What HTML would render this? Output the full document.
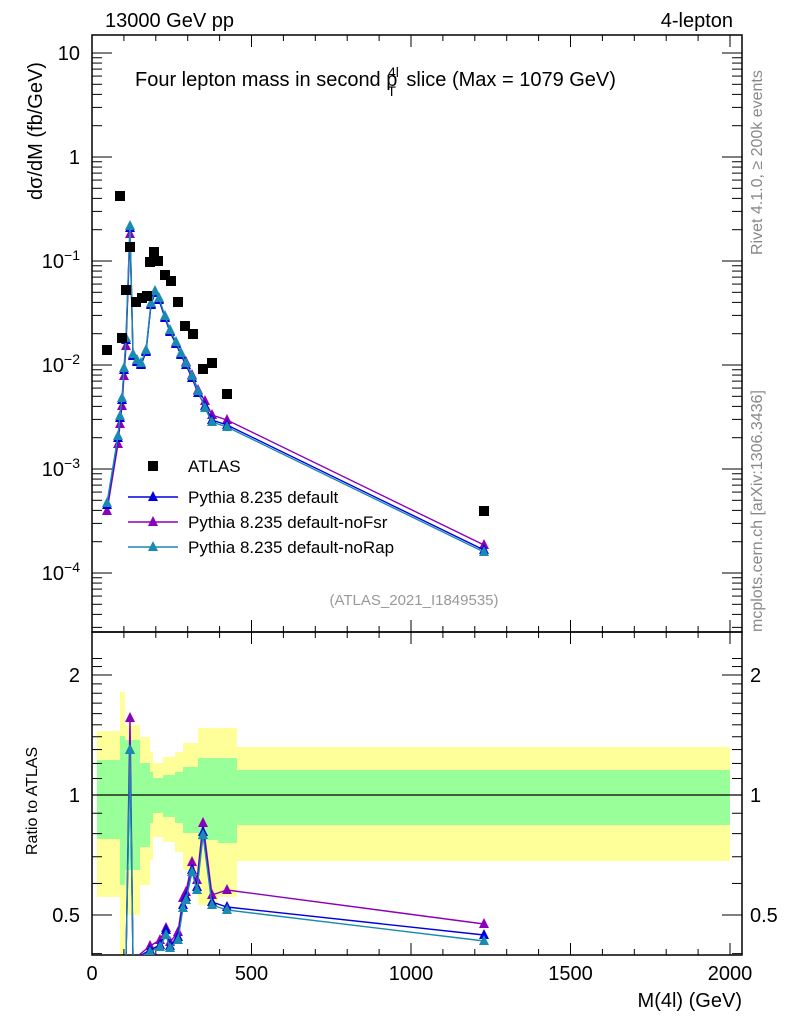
<!DOCTYPE html><html><head><style>body{margin:0;background:#fff}svg{display:block}text{font-family:"Liberation Sans",sans-serif}</style></head><body>
<svg id="s" width="786" height="1024" xmlns="http://www.w3.org/2000/svg"></svg>
<script>
const S=document.getElementById('s');let h='';
const L=92,R=742,T=35,M=632,B=955;
const X=v=>92+v*0.319;
const YM=v=>365-104*Math.log10(v/0.01);
const YR=v=>795-120*Math.log2(v);
const seg=[[97,120,731,897,760,839],[120,125,692,955,736,885],[125,140,725,915,740,870],[140,150,737,885,763,847],[150,153,752,860,772,823],[153,163,763,837,778,813],[163,175,757,842,775,817],[175,183,752,852,772,823],[183,198,743,870,767,833],[198,218,728,905,758,840],[218,237,728,897,758,843],[237,730,747,861,770,825]];
for(const s of seg){h+=`<rect x="${s[0]}" y="${s[2]}" width="${s[1]-s[0]}" height="${s[3]-s[2]}" fill="#ffff99"/>`;}
for(const s of seg){h+=`<rect x="${s[0]}" y="${s[4]}" width="${s[1]-s[0]}" height="${s[5]-s[4]}" fill="#99ff99"/>`;}
h+=`<line x1="${L}" x2="${R}" y1="795" y2="795" stroke="#000" stroke-width="1.3"/>`;
h+=`<rect x="${L}" y="${T}" width="${R-L}" height="${M-T}" fill="none" stroke="#000" stroke-width="1.5"/>`;
h+=`<rect x="${L}" y="${M}" width="${R-L}" height="${B-M}" fill="none" stroke="#000" stroke-width="1.5"/>`;
for(let v=0;v<=2000;v+=100){const x=X(v),mj=v%500==0;const l=mj?12:6;
for(const [y0,d] of [[T,1],[M,-1],[M,1],[B,-1]])h+=`<line x1="${x}" x2="${x}" y1="${y0}" y2="${y0+d*l}" stroke="#000"/>`;}
for(const v of [0,500,1000,1500,2000])h+=`<text x="${X(v)}" y="980" font-size="20" text-anchor="middle">${v}</text>`;
for(let e=-5;e<=1;e++)for(let k=1;k<10;k++){const v=k*Math.pow(10,e);const y=YM(v);if(y<T||y>M)continue;const l=k==1?20:10;
h+=`<line x1="${L}" x2="${L+l}" y1="${y}" y2="${y}" stroke="#000"/><line x1="${R}" x2="${R-l}" y1="${y}" y2="${y}" stroke="#000"/>`;}
h+=`<text x="80" y="${YM(10)+7}" font-size="20" text-anchor="end">10</text><text x="80" y="${YM(1)+7}" font-size="20" text-anchor="end">1</text>`;
for(const e of [-1,-2,-3,-4])h+=`<text x="80" y="${YM(Math.pow(10,e))+7}" font-size="20" text-anchor="end">10<tspan dy="-8" font-size="14">${'−'+(-e)}</tspan></text>`;
for(let v=0.4;v<=2.3;v+=0.1){const y=YR(v);if(y<M||y>B)continue;const mj=Math.abs(v-0.5)<.01||Math.abs(v-1)<.01||Math.abs(v-2)<.01;const l=mj?20:10;
h+=`<line x1="${L}" x2="${L+l}" y1="${y}" y2="${y}" stroke="#000"/><line x1="${R}" x2="${R-l}" y1="${y}" y2="${y}" stroke="#000"/>`;}
for(const [v,t] of [[2,'2'],[1,'1'],[0.5,'0.5']]){h+=`<text x="80" y="${YR(v)+7}" font-size="20" text-anchor="end">${t}</text><text x="750" y="${YR(v)+7}" font-size="20">${t}</text>`;}
const atl=[[107,350],[120,196],[122,338],[126,290],[130,247],[136,302],[142,298],[147,296],[150,262],[154,252],[158,261],[165,275],[171,281],[178,302],[185,326],[193,334],[203,369],[212,363],[227,394],[484,511]];
const base=[[107,505],[118,438],[120,418],[122,400],[124,370],[126,340],[130,228],[133,356],[137,362],[141,365],[146,352],[151,305],[155,293],[159,300],[165,318],[170,332],[176,344],[181,355],[186,365],[192,378],[198,393],[205,404],[212,418],[227,423],[484,548]];
function tri(x,y,c){return `<polygon points="${x},${y-6} ${x-5},${y+4} ${x+5},${y+4}" fill="${c}"/>`;}
function ser(pts,c){h+=`<polyline points="${pts.map(p=>p.join(',')).join(' ')}" fill="none" stroke="${c}" stroke-width="1.4"/>`;for(const p of pts)h+=tri(p[0],p[1],c);}
ser(base.map((p,i)=>[p[0],p[1]+(i<7?6:(i>17?-3:-1))]),'#8b00b8');
ser(base.map((p,i)=>[p[0],p[1]+(i>20?2:0)]),'#0000dd');
ser(base.map((p,i)=>[p[0],p[1]+(i>20?4:-2)]),'#1a8ab0');
for(const p of atl)h+=`<rect x="${p[0]-5}" y="${p[1]-5}" width="10" height="10" fill="#000"/>`;
const xs=[122,126,130,133,150,160,166,170,178,183,186,192,197,203,212,227,484];
const rt=[960,960,750,960,952,947,935,948,940,908,900,872,890,835,905,910,941];
const rbl=[960,960,750,960,950,945,930,946,937,905,897,870,887,832,902,907,935];
const rp=[960,960,718,960,946,940,928,942,932,898,892,862,880,823,895,890,924];
h+=`<clipPath id="c"><rect x="${L}" y="${M}" width="${R-L}" height="${B-M}"/></clipPath><g clip-path="url(#c)">`;
function rser(ys,c){const pts=xs.map((x,i)=>[x,ys[i]]);h+=`<polyline points="${pts.map(p=>p.join(',')).join(' ')}" fill="none" stroke="${c}" stroke-width="1.4"/>`;for(const p of pts)if(p[1]<955)h+=tri(p[0],p[1],c);}
rser(rp,'#8b00b8');rser(rbl,'#0000dd');rser(rt,'#1a8ab0');
h+=`</g>`;
h+=`<rect x="148" y="461" width="10" height="10" fill="#000"/><text x="188" y="472" font-size="17">ATLAS</text>`;
const lg=[['#0000dd','Pythia 8.235 default',497],['#8b00b8','Pythia 8.235 default-noFsr',522],['#1a8ab0','Pythia 8.235 default-noRap',547]];
for(const [c,t,y] of lg){h+=`<line x1="128" x2="178" y1="${y}" y2="${y}" stroke="${c}" stroke-width="1.4"/>`+tri(153,y,c)+`<text x="188" y="${y+6}" font-size="17">${t}</text>`;}
h+=`<text x="105" y="27" font-size="20">13000 GeV pp</text><text x="733" y="27" font-size="20" text-anchor="end">4-lepton</text>`;
h+=`<text x="135" y="86" font-size="20">Four lepton mass in second p<tspan font-size="14" dx="-10" dy="10">T</tspan><tspan font-size="14" dx="-8" dy="-19">4l</tspan><tspan dy="9" dx="2"> slice (Max = 1079 GeV)</tspan></text>`;
h+=`<text x="414" y="605" font-size="15" fill="#999" text-anchor="middle">(ATLAS_2021_I1849535)</text>`;
h+=`<text transform="translate(42,200) rotate(-90)" font-size="20" text-anchor="start">dσ/dM (fb/GeV)</text>`;
h+=`<text transform="translate(37,855) rotate(-90)" font-size="16">Ratio to ATLAS</text>`;
h+=`<text x="742" y="1007" font-size="20" text-anchor="end">M(4l) (GeV)</text>`;
h+=`<text transform="translate(762,255) rotate(-90)" font-size="16" fill="#888">Rivet 4.1.0, ≥ 200k events</text>`;
h+=`<text transform="translate(762,632) rotate(-90)" font-size="16" fill="#888">mcplots.cern.ch [arXiv:1306.3436]</text>`;
S.innerHTML=h;
</script></body></html>
